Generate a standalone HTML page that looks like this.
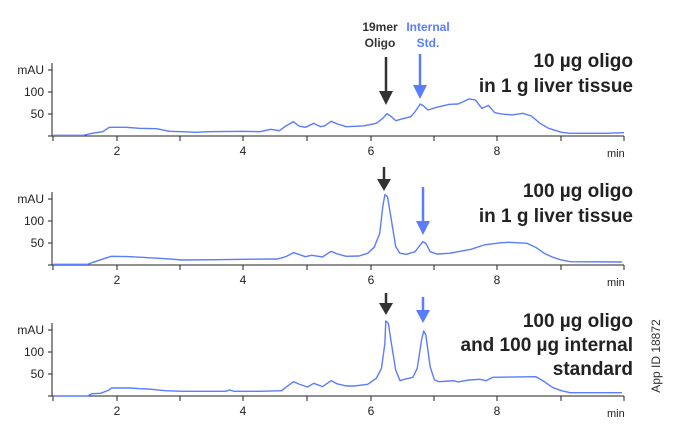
<!DOCTYPE html>
<html><head><meta charset="utf-8"><style>
html,body{margin:0;padding:0;background:#fff}
svg{display:block;font-family:"Liberation Sans",sans-serif}
.tl{font-size:12px;fill:#222}
.tt{font-size:19px;font-weight:bold;fill:#222}
.tr{fill:none;stroke:#5a7cff;stroke-width:1.4;vector-effect:non-scaling-stroke;stroke-linejoin:round}
</style></head><body>
<svg width="677" height="446" viewBox="0 0 677 446" xmlns="http://www.w3.org/2000/svg">
<defs>
<g id="ax">
<line x1="52" y1="0" x2="624" y2="0" stroke="#222" stroke-width="1"/>
<g stroke="#222" stroke-width="1">
<line x1="53" y1="0" x2="53" y2="5"/><line x1="117" y1="0" x2="117" y2="5"/><line x1="180" y1="0" x2="180" y2="5"/><line x1="243" y1="0" x2="243" y2="5"/><line x1="307" y1="0" x2="307" y2="5"/><line x1="371" y1="0" x2="371" y2="5"/><line x1="434" y1="0" x2="434" y2="5"/><line x1="497" y1="0" x2="497" y2="5"/><line x1="561" y1="0" x2="561" y2="5"/><line x1="624" y1="0" x2="624" y2="5"/>
<line x1="52" y1="0" x2="52" y2="-73"/>
<line x1="48" y1="0" x2="52" y2="0"/><line x1="48" y1="-22" x2="52" y2="-22"/><line x1="48" y1="-44" x2="52" y2="-44"/><line x1="48" y1="-66" x2="52" y2="-66"/>
</g>
<g class="tl" text-anchor="middle"><text x="117" y="19">2</text><text x="243" y="19">4</text><text x="371" y="19">6</text><text x="497" y="19">8</text></g>
<text class="tl" x="607" y="21" style="font-size:11px">min</text>
<g class="tl" text-anchor="end"><text x="44" y="-18">50</text><text x="44" y="-40">100</text><text x="44" y="-62">mAU</text></g>
</g>
</defs>
<use href="#ax" transform="translate(0,136)"/>
<use href="#ax" transform="translate(0,265)"/>
<use href="#ax" transform="translate(0,396)"/>

<g transform="translate(1.5,0) scale(0.4308,0.3333)">
<polyline class="tr" points="120,406 190,406 210,400 235,395 250,382 290,382 320,385 360,386 390,394 420,395 450,397 480,395 560,394 600,395 625,388 645,392 660,378 678,365 690,378 705,382 725,370 740,380 750,378 765,364 780,372 800,380 840,378 870,370 885,355 895,341 905,350 915,362 935,355 950,350 960,335 972,312 980,318 990,330 1010,322 1040,313 1060,312 1085,297 1100,300 1115,325 1130,316 1145,338 1160,342 1185,345 1210,340 1230,348 1250,370 1270,385 1300,397 1320,400 1400,400 1445,398"/>
</g>
<g transform="translate(1.5,160) scale(0.4308,0.3333)">
<polyline class="tr" points="120,313 200,313 210,308 240,295 255,289 300,290 340,293 380,296 420,300 500,299 560,298 640,297 660,290 678,278 690,283 705,290 720,286 745,291 765,274 780,282 800,289 830,288 850,280 865,262 878,220 885,140 890,104 896,110 905,180 915,260 925,280 940,283 960,275 970,258 978,245 985,250 995,275 1010,282 1040,280 1060,275 1090,268 1120,255 1160,248 1180,247 1220,250 1240,262 1260,280 1280,292 1300,300 1320,305 1440,306"/>
</g>
<g transform="translate(1.5,290) scale(0.4308,0.3333)">
<polyline class="tr" points="120,318 200,318 210,311 230,310 250,300 255,294 300,294 320,296 340,297 380,302 420,304 520,304 530,300 540,304 600,304 650,302 660,292 678,275 690,282 710,291 725,280 745,290 765,272 780,282 800,288 820,288 850,283 870,265 882,235 890,160 892,93 898,100 905,160 915,240 925,272 935,268 955,262 965,235 975,150 980,123 985,135 995,230 1005,270 1015,275 1040,273 1050,272 1060,276 1085,270 1110,268 1125,272 1140,262 1240,260 1260,275 1280,293 1300,302 1320,308 1440,308"/>
</g>

<line x1="386" y1="57" x2="386" y2="92" stroke="#333" stroke-width="2.5"/><polygon points="379,91 393,91 386,105" fill="#333"/>
<line x1="420" y1="54" x2="420" y2="86" stroke="#5a7cff" stroke-width="2.5"/><polygon points="413,85 427,85 420,99" fill="#5a7cff"/>
<g text-anchor="middle" font-weight="bold" font-size="12"><text x="380" y="31" fill="#333">19mer</text><text x="380" y="47" fill="#333">Oligo</text><text x="428" y="31" fill="#5a7cff">Internal</text><text x="428" y="47" fill="#5a7cff">Std.</text></g>
<line x1="384" y1="167" x2="384" y2="180" stroke="#333" stroke-width="2.5"/><polygon points="377,179 391,179 384,191" fill="#333"/>
<line x1="423" y1="187" x2="423" y2="222" stroke="#5a7cff" stroke-width="2.5"/><polygon points="416,221 430,221 423,235" fill="#5a7cff"/>
<line x1="386" y1="293" x2="386" y2="304" stroke="#333" stroke-width="2.5"/><polygon points="379,303 393,303 386,315" fill="#333"/>
<line x1="423" y1="297" x2="423" y2="311" stroke="#5a7cff" stroke-width="2.5"/><polygon points="416,310 430,310 423,323" fill="#5a7cff"/>

<g class="tt" text-anchor="end">
<text x="633" y="67">10 µg oligo</text><text x="633" y="92">in 1 g liver tissue</text>
<text x="633" y="197">100 µg oligo</text><text x="633" y="222">in 1 g liver tissue</text>
<text x="633" y="327">100 µg oligo</text><text x="633" y="351">and 100 µg internal</text><text x="633" y="375">standard</text>
</g>
<text transform="translate(660,356) rotate(-90)" text-anchor="middle" font-size="12" fill="#333">App ID 18872</text>
</svg>
</body></html>
